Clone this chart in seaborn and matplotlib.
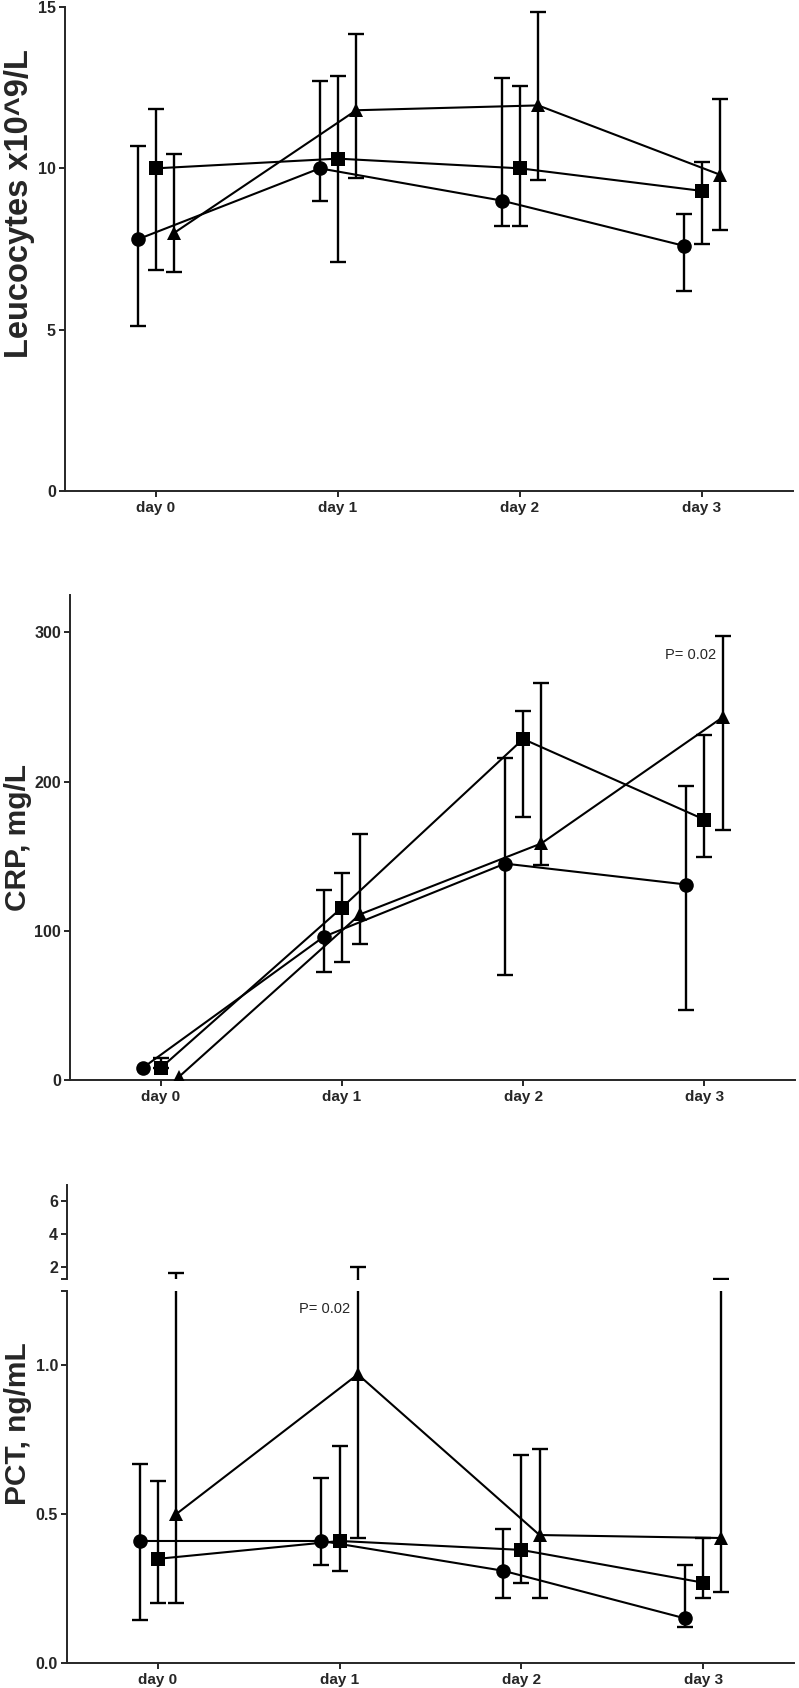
import numpy as np
import pandas as pd
import matplotlib
matplotlib.use("Agg")
import matplotlib.pyplot as plt
import seaborn as sns

# ---------------- data ----------------
days = ["day 0", "day 1", "day 2", "day 3"]
groups = ["Group 1", "Group 2", "Group 3"]          # circle, square, triangle
group_markers = {"Group 1": "o", "Group 2": "s", "Group 3": "^"}

# Leucocytes x10^9/L  (value, lower, upper)
leu_g1 = [7.8, 10.0, 9.0, 7.6]
leu_g1_lo = [5.1, 9.0, 8.2, 6.2]
leu_g1_hi = [10.7, 12.7, 12.8, 8.6]
leu_g2 = [10.0, 10.3, 10.0, 9.3]
leu_g2_lo = [6.85, 7.1, 8.2, 7.65]
leu_g2_hi = [11.85, 12.85, 12.55, 10.2]
leu_g3 = [8.0, 11.8, 11.95, 9.8]
leu_g3_lo = [6.8, 9.7, 9.65, 8.1]
leu_g3_hi = [10.45, 14.15, 14.85, 12.15]

# CRP, mg/L
crp_g1 = [8, 96, 145, 131]
crp_g1_lo = [np.nan, 72.5, 70.5, 47]
crp_g1_hi = [np.nan, 127.5, 216, 197]
crp_g2 = [8, 115.5, 228.5, 174.5]
crp_g2_lo = [np.nan, 79, 176, 149.5]
crp_g2_hi = [15, 139, 247, 231.5]
crp_g3 = [2, 111, 158.5, 243]
crp_g3_lo = [np.nan, 91, 144, 167.5]
crp_g3_hi = [np.nan, 165, 266, 297.5]

# PCT, ng/mL
pct_g1 = [0.41, 0.41, 0.31, 0.15]
pct_g1_lo = [0.145, 0.33, 0.22, 0.12]
pct_g1_hi = [0.67, 0.62, 0.45, 0.33]
pct_g2 = [0.35, 0.41, 0.38, 0.27]
pct_g2_lo = [0.20, 0.31, 0.27, 0.22]
pct_g2_hi = [0.61, 0.73, 0.70, 0.42]
pct_g3 = [0.50, 0.97, 0.43, 0.42]
pct_g3_lo = [0.20, 0.42, 0.22, 0.24]
pct_g3_hi = [1.65, 2.0, 0.72, 1.31]

p_text = "P= 0.02"

# ---------------- style ----------------
sns.set_theme(style="ticks")
plt.rcParams["font.family"] = ["Liberation Sans", "DejaVu Sans"]
plt.rcParams["font.weight"] = "bold"
plt.rcParams["axes.linewidth"] = 1.4

offsets = {"Group 1": -0.1, "Group 2": 0.0, "Group 3": 0.1}


def make_df(vals, los, his):
    rows = []
    for g, v, lo, hi in zip(groups, vals, los, his):
        for i, d in enumerate(days):
            rows.append(dict(group=g, day=d, x=i + offsets[g], value=v[i],
                             lo=lo[i], hi=hi[i]))
    return pd.DataFrame(rows)


df_leu = make_df([leu_g1, leu_g2, leu_g3], [leu_g1_lo, leu_g2_lo, leu_g3_lo],
                 [leu_g1_hi, leu_g2_hi, leu_g3_hi])
df_crp = make_df([crp_g1, crp_g2, crp_g3], [crp_g1_lo, crp_g2_lo, crp_g3_lo],
                 [crp_g1_hi, crp_g2_hi, crp_g3_hi])
df_pct = make_df([pct_g1, pct_g2, pct_g3], [pct_g1_lo, pct_g2_lo, pct_g3_lo],
                 [pct_g1_hi, pct_g2_hi, pct_g3_hi])


def draw(ax, df):
    for g in groups:
        sub = df[df.group == g]
        lo = np.where(np.isnan(sub.lo), sub.value, sub.lo)
        hi = np.where(np.isnan(sub.hi), sub.value, sub.hi)
        yerr = np.vstack([sub.value - lo, hi - sub.value])
        mask = (yerr.sum(axis=0) > 0)
        ax.errorbar(sub.x[mask], sub.value[mask], yerr=yerr[:, mask], fmt="none",
                    ecolor="black", elinewidth=1.7, capsize=6, capthick=1.7,
                    zorder=2)
    sns.lineplot(data=df, x="x", y="value", style="group", markers=group_markers,
                 dashes=False, color="black", markersize=10.5, linewidth=1.5,
                 markeredgewidth=0, legend=False, estimator=None, sort=False,
                 errorbar=None, ax=ax, zorder=3)
    ax.set_xlim(-0.5, 3.5)
    ax.set_xlabel("")
    ax.set_ylabel("")


W, H = 799, 1688
fig = plt.figure(figsize=(W / 100, H / 100), dpi=100)


def add_axes(l, r, t, b):
    return fig.add_axes([l / W, 1 - b / H, (r - l) / W, (b - t) / H])


ax1 = add_axes(65, 793, 7, 491)
ax2 = add_axes(70, 795, 595, 1080)
ax3t = add_axes(67, 794, 1185, 1279)
ax3b = add_axes(67, 794, 1291, 1663)

for ax, df in [(ax1, df_leu), (ax2, df_crp), (ax3t, df_pct), (ax3b, df_pct)]:
    draw(ax, df)
    sns.despine(ax=ax)
    ax.tick_params(axis="y", length=4.5, width=1.4, pad=2, labelsize=11.5)
    ax.tick_params(axis="x", length=4, width=1.4, pad=3, labelsize=11)

for ax in (ax1, ax2, ax3b):
    ax.set_xticks(range(len(days)))
    ax.set_xticklabels(days, fontweight="bold")

ax1.set_ylim(0, 15)
ax1.set_yticks([0, 5, 10, 15])
ax2.set_ylim(0, 325)
ax2.set_yticks([0, 100, 200, 300])

ax3t.set_ylim(1.3, 7)
ax3t.set_yticks([2, 4, 6])
ax3t.set_yticks([1.3], minor=True)
ax3t.tick_params(axis="y", which="minor", length=4.5, width=1.4)
ax3t.spines["bottom"].set_visible(False)
ax3t.set_xticks([])

ax3b.set_ylim(0, 1.25)
ax3b.set_yticks([0, 0.5, 1.0])
ax3b.set_yticklabels(["0.0", "0.5", "1.0"])
ax3b.set_yticks([1.25], minor=True)
ax3b.tick_params(axis="y", which="minor", length=4.5, width=1.4)

for ax in (ax1, ax2, ax3t, ax3b):
    for lbl in ax.get_yticklabels():
        lbl.set_fontweight("bold")

# annotations
ax2.text(3.065, 285, p_text, ha="right", va="center", fontsize=10.5,
         fontweight="normal")
ax3b.text(1.057, 1.19, p_text, ha="right", va="center", fontsize=10.5,
          fontweight="normal")

# y labels
fig.text(0.025, 1 - 204 / H, "Leucocytes x10^9/L", rotation=90, ha="center",
         va="center", fontsize=23.5, fontweight="bold")
fig.text(0.023, 1 - 837 / H, "CRP, mg/L", rotation=90, ha="center",
         va="center", fontsize=21.5, fontweight="bold")
fig.text(0.023, 1 - 1424 / H, "PCT, ng/mL", rotation=90, ha="center",
         va="center", fontsize=21.5, fontweight="bold")

fig.savefig("out.png", dpi=100, facecolor="white")
